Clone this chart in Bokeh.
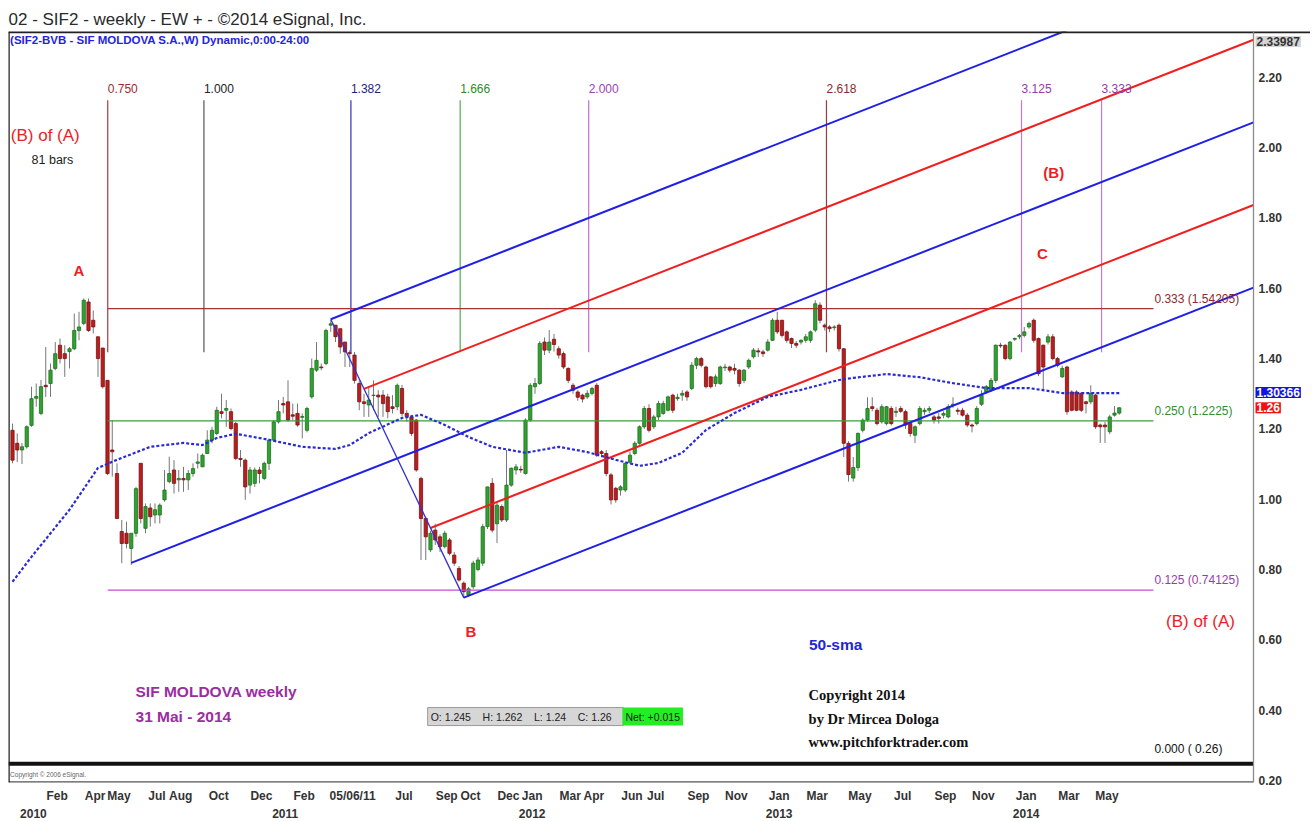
import numpy as np
import pandas as pd
from bokeh.plotting import figure
from bokeh.models import (ColumnDataSource, FixedTicker, Label, Range1d, PrintfTickFormatter,
                          LinearAxis, Span)
from bokeh.embed import file_html
from bokeh.resources import INLINE

# ---------------- data ----------------
START = pd.Timestamp("2009-12-07")   # Monday of the first weekly bar

opens = [1.196,1.159,1.140,1.149,1.210,1.287,1.244,1.324,1.329,1.372,
1.438,1.414,1.420,1.428,1.480,1.500,1.561,1.509,1.462,1.430,
1.338,1.140,1.073,0.908,0.903,0.860,0.903,1.102,0.917,0.975,
0.955,0.955,0.998,1.050,1.083,1.055,1.059,1.055,1.073,1.102,
1.092,1.130,1.168,1.187,1.249,1.253,1.249,1.215,1.116,1.111,
1.040,1.045,1.083,1.059,1.102,1.168,1.220,1.272,1.277,1.240,
1.244,1.233,1.196,1.291,1.367,1.376,1.386,1.495,1.495,1.485,
1.447,1.417,1.410,1.329,1.277,1.268,1.295,1.296,1.296,1.291,
1.263,1.263,1.315,1.244,1.234,1.225,1.059,0.945,0.856,0.912,
0.893,0.865,0.884,0.841,0.803,0.761,0.728,0.751,0.800,0.818,
0.922,1.045,0.930,0.979,0.941,1.040,1.083,1.085,1.073,1.225,
1.320,1.329,1.447,1.424,1.455,1.428,1.414,1.372,1.324,1.305,
1.296,1.291,1.301,1.324,1.135,1.130,1.069,1.031,1.026,1.026,
1.105,1.130,1.159,1.206,1.258,1.206,1.234,1.244,1.253,1.296,
1.286,1.296,1.305,1.315,1.381,1.400,1.376,1.348,1.329,1.329,
1.374,1.376,1.372,1.367,1.338,1.376,1.405,1.422,1.419,1.424,
1.452,1.509,1.509,1.476,1.457,1.443,1.447,1.452,1.452,1.481,
1.552,1.495,1.490,1.488,1.495,1.428,1.159,1.060,1.090,1.196,
1.225,1.263,1.253,1.220,1.215,1.258,1.247,1.258,1.249,1.215,
1.182,1.215,1.249,1.253,1.234,1.234,1.239,1.234,1.267,1.253,
1.253,1.239,1.211,1.215,1.270,1.305,1.310,1.338,1.438,1.438,
1.400,1.455,1.462,1.466,1.490,1.509,1.457,1.438,1.447,1.462,
1.400,1.348,1.376,1.305,1.305,1.301,1.277,1.277,1.296,1.211,
1.211,1.192,1.239,1.245]

highs = [1.215,1.187,1.160,1.210,1.320,1.329,1.339,1.433,1.386,1.447,
1.457,1.438,1.433,1.528,1.533,1.571,1.571,1.537,1.462,1.430,
1.338,1.225,1.102,0.941,0.936,0.903,1.035,1.102,0.988,0.988,
0.988,0.988,1.083,1.121,1.111,1.083,1.092,1.083,1.102,1.130,
1.130,1.196,1.206,1.263,1.300,1.282,1.258,1.220,1.140,1.116,
1.092,1.090,1.092,1.107,1.168,1.225,1.282,1.291,1.338,1.272,
1.272,1.244,1.263,1.400,1.447,1.386,1.485,1.509,1.495,1.485,
1.447,1.424,1.419,1.338,1.300,1.320,1.338,1.310,1.310,1.300,
1.296,1.329,1.325,1.253,1.240,1.228,1.064,0.950,0.910,0.930,
0.900,0.910,0.890,0.850,0.810,0.766,0.750,0.825,0.835,0.930,
1.035,1.060,0.990,0.985,1.140,1.090,1.100,1.095,1.230,1.330,
1.345,1.450,1.460,1.481,1.470,1.435,1.420,1.375,1.330,1.310,
1.300,1.310,1.320,1.330,1.140,1.140,1.075,1.035,1.040,1.105,
1.135,1.165,1.210,1.265,1.270,1.240,1.280,1.280,1.295,1.300,
1.300,1.310,1.310,1.390,1.405,1.405,1.380,1.350,1.355,1.380,
1.385,1.380,1.385,1.370,1.370,1.400,1.430,1.430,1.425,1.455,
1.515,1.533,1.510,1.480,1.460,1.450,1.455,1.470,1.480,1.566,
1.560,1.500,1.495,1.495,1.500,1.430,1.165,1.120,1.190,1.230,
1.290,1.290,1.260,1.270,1.265,1.265,1.263,1.265,1.255,1.220,
1.210,1.265,1.260,1.265,1.240,1.245,1.250,1.270,1.290,1.260,
1.260,1.245,1.215,1.265,1.310,1.325,1.345,1.440,1.445,1.440,
1.450,1.460,1.470,1.490,1.505,1.514,1.460,1.440,1.470,1.470,
1.405,1.380,1.380,1.310,1.310,1.305,1.280,1.324,1.300,1.215,
1.220,1.240,1.265,1.262]

lows = [1.102,1.106,1.100,1.144,1.206,1.263,1.239,1.291,1.291,1.367,
1.386,1.348,1.372,1.424,1.452,1.495,1.476,1.471,1.348,1.315,
1.069,1.064,0.945,0.818,0.860,0.813,0.893,0.931,0.903,0.922,
0.931,0.931,0.993,1.045,1.016,1.021,1.021,1.026,1.064,1.087,
1.092,1.130,1.159,1.182,1.230,1.206,1.196,1.111,1.092,0.998,
1.016,1.035,1.045,1.054,1.083,1.163,1.215,1.244,1.220,1.225,
1.206,1.173,1.190,1.286,1.362,1.367,1.381,1.476,1.447,1.414,
1.376,1.376,1.329,1.253,1.234,1.234,1.253,1.234,1.234,1.230,
1.244,1.253,1.235,1.220,1.180,1.078,0.827,0.827,0.850,0.870,
0.850,0.860,0.840,0.810,0.765,0.718,0.722,0.745,0.795,0.810,
0.915,0.905,0.875,0.935,0.935,1.035,1.070,1.075,1.070,1.220,
1.300,1.325,1.410,1.415,1.420,1.400,1.370,1.330,1.300,1.280,
1.275,1.285,1.295,1.120,1.120,1.065,0.985,0.990,1.010,1.020,
1.100,1.125,1.155,1.200,1.190,1.200,1.225,1.240,1.250,1.245,
1.280,1.280,1.280,1.310,1.370,1.375,1.315,1.315,1.320,1.325,
1.365,1.360,1.355,1.320,1.330,1.370,1.400,1.405,1.405,1.420,
1.450,1.470,1.460,1.445,1.430,1.430,1.440,1.445,1.445,1.475,
1.500,1.480,1.475,1.480,1.420,1.120,1.050,1.050,1.080,1.190,
1.220,1.250,1.210,1.215,1.210,1.210,1.234,1.245,1.200,1.178,
1.160,1.210,1.240,1.245,1.215,1.215,1.230,1.230,1.260,1.240,
1.235,1.205,1.190,1.210,1.265,1.300,1.305,1.330,1.430,1.395,
1.395,1.450,1.455,1.460,1.485,1.445,1.350,1.310,1.440,1.395,
1.375,1.345,1.240,1.250,1.250,1.248,1.244,1.270,1.200,1.160,
1.160,1.185,1.235,1.240]

closes = [1.111,1.140,1.149,1.206,1.286,1.292,1.320,1.320,1.367,1.414,
1.400,1.400,1.428,1.480,1.490,1.566,1.480,1.490,1.400,1.320,
1.073,1.135,0.945,0.874,0.874,0.903,1.030,0.945,0.979,0.950,
0.970,0.983,1.026,1.073,1.045,1.059,1.055,1.073,1.087,1.106,
1.125,1.168,1.196,1.253,1.244,1.258,1.201,1.116,1.113,1.035,
1.083,1.083,1.073,1.102,1.168,1.220,1.249,1.268,1.225,1.236,
1.211,1.235,1.258,1.372,1.395,1.374,1.480,1.499,1.462,1.433,
1.419,1.414,1.338,1.277,1.272,1.282,1.296,1.291,1.272,1.249,
1.258,1.324,1.244,1.235,1.187,1.083,0.945,0.893,0.903,0.884,
0.865,0.903,0.846,0.818,0.770,0.737,0.745,0.818,0.827,0.922,
1.035,0.912,0.983,0.941,1.040,1.088,1.092,1.083,1.225,1.324,
1.329,1.443,1.424,1.447,1.440,1.410,1.376,1.338,1.310,1.290,
1.285,1.301,1.315,1.125,1.130,1.073,0.998,0.998,1.035,1.102,
1.125,1.159,1.206,1.258,1.196,1.234,1.272,1.272,1.291,1.253,
1.290,1.301,1.291,1.381,1.400,1.381,1.320,1.320,1.348,1.376,
1.376,1.367,1.367,1.329,1.367,1.395,1.424,1.419,1.414,1.447,
1.509,1.476,1.466,1.452,1.443,1.438,1.452,1.462,1.476,1.556,
1.509,1.490,1.485,1.490,1.428,1.159,1.070,1.090,1.187,1.225,
1.258,1.258,1.215,1.263,1.263,1.215,1.250,1.250,1.211,1.187,
1.206,1.258,1.253,1.258,1.225,1.230,1.244,1.263,1.270,1.250,
1.239,1.211,1.208,1.258,1.296,1.320,1.338,1.438,1.436,1.400,
1.447,1.457,1.466,1.476,1.500,1.452,1.357,1.376,1.462,1.400,
1.381,1.372,1.249,1.253,1.253,1.253,1.272,1.301,1.206,1.206,
1.206,1.234,1.245,1.260]

# 50-week simple moving average
sma_bar = [0, 4, 12, 18, 22, 29, 36, 40, 43, 47, 54, 61, 68, 71, 75, 82, 86, 91, 96, 101,
           108, 115, 121, 127, 132, 136, 141, 146, 152, 159, 166, 174, 177, 184, 191, 198,
           205, 214, 221, 233]
sma_val = [0.765, 0.836, 0.970, 1.089, 1.112, 1.149, 1.160, 1.154, 1.174, 1.186, 1.169, 1.149,
           1.143, 1.154, 1.188, 1.231, 1.240, 1.211, 1.177, 1.149, 1.132, 1.149, 1.134, 1.112,
           1.095, 1.103, 1.132, 1.197, 1.245, 1.291, 1.311, 1.339, 1.345, 1.356, 1.347, 1.330,
           1.316, 1.316, 1.302, 1.302]
sma_last = 1.30366
chart_top_value = 2.33987

# Andrews pitchfork pivots (bar, price)
piv_bar = [25, 67, 95]
piv_price = [0.819, 1.512, 0.720]

# Fibonacci time lines
ftime_ratio = [0.750, 1.000, 1.382, 1.666, 2.000, 2.618, 3.125, 3.333]
ftime_origin = -40.7
ftime_bars = 81

# Horizontal levels
level_ratio = [0.333, 0.250, 0.125, 0.000]
level_price = [1.54205, 1.2225, 0.74125, 0.26]
level_text = ["0.333 (1.54205)", "0.250 (1.2225)", "0.125 (0.74125)", "0.000 ( 0.26)"]

month_keys = ["2010-02", "2010-04", "2010-05", "2010-07", "2010-08", "2010-10", "2010-12",
              "2011-02", "2011-07", "2011-09", "2011-10", "2011-12",
              "2012-01", "2012-03", "2012-04", "2012-06", "2012-07", "2012-09", "2012-11",
              "2013-01", "2013-03", "2013-05", "2013-07", "2013-09", "2013-11",
              "2014-01", "2014-03", "2014-05"]
month_names = ["Feb", "Apr", "May", "Jul", "Aug", "Oct", "Dec",
               "Feb", "Jul", "Sep", "Oct", "Dec",
               "Jan", "Mar", "Apr", "Jun", "Jul", "Sep", "Nov",
               "Jan", "Mar", "May", "Jul", "Sep", "Nov",
               "Jan", "Mar", "May"]
years = ["2010", "2011", "2012", "2013", "2014"]
y_ticks = [0.20, 0.40, 0.60, 0.80, 1.00, 1.20, 1.40, 1.60, 1.80, 2.00, 2.20]
cursor_date_text = "05/06/11"
cursor_bar = 71.6

# ---------------- styling ----------------
SANS = "Liberation Sans"
SERIF = "Liberation Serif"
GREEN, GREEN_EDGE = "#2fa22f", "#1d6e1d"
RED, RED_EDGE = "#bb1e1e", "#7a1010"
PF_BLUE, PF_RED = "#1f1fe6", "#f01e1e"
NB = "\u00a0"

O = np.array(opens); H = np.array(highs); L = np.array(lows); C = np.array(closes)
n = len(C)
idx = np.arange(n)

X0, XAX, X1 = -0.842, 261.26, 273.26    # frame left, price-axis line, frame right (bars)
YB, YT = 0.194, 2.3305

p = figure(width=1310, height=820,
           x_range=Range1d(X0, X1), y_range=Range1d(YB, YT),
           y_axis_location="right", output_backend="svg", toolbar_location=None,
           min_border_left=8, min_border_right=0, min_border_top=31, min_border_bottom=37,
           title="02 - SIF2 - weekly - EW + - \u00a92014 eSignal, Inc.")
p.grid.visible = False
p.outline_line_color = None
p.title.text_font = SANS
p.title.text_font_size = "17px"
p.title.text_font_style = "normal"
p.title.text_color = "#2a2a2a"
p.title.standoff = 5

# right price axis: labels drawn just right of the price-axis line
p.yaxis.ticker = FixedTicker(ticks=y_ticks)
p.yaxis.formatter = PrintfTickFormatter(format="%.2f")
p.yaxis.major_tick_line_color = None
p.yaxis.minor_tick_line_color = None
p.yaxis.major_tick_out = 0
p.yaxis.minor_tick_out = 0
p.yaxis.axis_line_color = None
p.yaxis.major_label_text_font = SANS
p.yaxis.major_label_text_font_size = "12px"
p.yaxis.major_label_text_font_style = "bold"
p.yaxis.major_label_text_color = "#333333"
p.yaxis.major_label_standoff = -52

# bottom month axis + year axis
def first_friday_bar(key):
    d = pd.Timestamp(key + "-01")
    d = d + pd.Timedelta(days=(4 - d.weekday()) % 7)
    return (d - START).days // 7

LABEL_SHIFT = 1.4
month_pos = [first_friday_bar(k) + LABEL_SHIFT for k in month_keys] + [cursor_bar]
month_txt = month_names + [cursor_date_text]
p.xaxis.ticker = FixedTicker(ticks=month_pos)
p.xaxis.major_label_overrides = {pos: name for pos, name in zip(month_pos, month_txt)}
year_pos = [first_friday_bar(y + "-01") + LABEL_SHIFT for y in years]
yax = LinearAxis(ticker=FixedTicker(ticks=year_pos),
                 major_label_overrides={pos: y for pos, y in zip(year_pos, years)})
p.add_layout(yax, "below")
for ax in (p.xaxis[0], yax):
    ax.axis_line_color = None
    ax.major_tick_line_color = None
    ax.minor_tick_line_color = None
    ax.major_tick_out = 0
    ax.minor_tick_out = 0
    ax.major_label_text_font = SANS
    ax.major_label_text_font_size = "12px"
    ax.major_label_text_font_style = "bold"
    ax.major_label_text_color = "#333333"
p.xaxis[0].major_label_standoff = 6
yax.major_label_standoff = 3

# frame lines
p.add_layout(Span(location=YT, dimension="width", line_color="#222222", line_width=3.5))
p.add_layout(Span(location=X0, dimension="height", line_color="#222222", line_width=2.5))
p.add_layout(Span(location=XAX, dimension="height", line_color="#8a8a8a", line_width=1.3))
p.segment(x0=[X0], y0=[YB], x1=[XAX], y1=[YB], line_color="#555555", line_width=2.5)

# ---------------- candles ----------------
up = C >= O
src = ColumnDataSource(dict(x=idx, h=H, l=L,
                            top=np.maximum(O, C), bot=np.minimum(O, C),
                            fill=[GREEN if u else RED for u in up],
                            edge=[GREEN_EDGE if u else RED_EDGE for u in up]))
p.segment(x0="x", y0="l", x1="x", y1="h", source=src, line_color="#777777", line_width=1)
p.vbar(x="x", width=0.68, top="top", bottom="bot", fill_color="fill",
       line_color="edge", line_width=0.8, source=src)

# ---------------- Fibonacci time lines ----------------
ft_x = [ftime_origin + r * ftime_bars for r in ftime_ratio]
ft_line_col = ["#b03a3a", "#555555", "#3030b0", "#4caf50", "#c070d0", "#9c3a3a", "#c07ad0", "#c07ad0"]
ft_text_col = ["#9c2b2b", "#222222", "#1e1e78", "#2e8b2e", "#9b3fae", "#8b2a2a", "#8f3fa0", "#8f3fa0"]
p.segment(x0=ft_x, y0=[1.418] * len(ft_x), x1=ft_x, y1=[2.135] * len(ft_x),
          line_color=ft_line_col, line_width=1.2)
for xv, r, col in zip(ft_x, ftime_ratio, ft_text_col):
    p.add_layout(Label(x=xv, y=2.168, text=f"{r:.3f}", text_font=SANS, text_font_size="12px",
                       text_color=col, text_align="left", text_baseline="middle"))

# ---------------- horizontal levels ----------------
lv_start = ft_x[0]
lv_end = 240.2
lv_col = ["#a83232", "#3c9c3c", "#c04fd0", "#111111"]
lv_tcol = ["#8b2b2b", "#2f8f2f", "#9b3aa8", "#111111"]
for lvl, pr, txt, lc, tc in zip(level_ratio, level_price, level_text, lv_col, lv_tcol):
    if lvl != 0.0:
        p.segment(x0=[lv_start], y0=[pr], x1=[lv_end], y1=[pr], line_color=lc, line_width=1.3)
    p.add_layout(Label(x=lv_end + 0.2, y=pr + 0.028, text=txt.replace(" ", NB), text_font=SANS,
                       text_font_size="12px", text_color=tc, text_align="left",
                       text_baseline="middle"))
# price-pane bottom separator (thick black rule under the 0.000 level)
p.segment(x0=[X0], y0=[0.2475], x1=[XAX], y1=[0.2475], line_color="#111111", line_width=4)

# ---------------- Andrews pitchfork ----------------
b0, b1, b2 = piv_bar
p0, p1, p2 = piv_price
mb, mp = (b1 + b2) / 2, (p1 + p2) / 2
slope = (mp - p0) / (mb - b0)

def ray(bx, py):
    return [bx, XAX], [py, py + slope * (XAX - bx)]

blue_rays = [ray(b0, p0), ray(b1, p1), ray(b2, p2)]
red_rays = [ray((b1 + mb) / 2, (p1 + mp) / 2), ray((b2 + mb) / 2, (p2 + mp) / 2)]
p.multi_line(xs=[r[0] for r in red_rays], ys=[r[1] for r in red_rays], line_color=PF_RED, line_width=2)
p.multi_line(xs=[r[0] for r in blue_rays], ys=[r[1] for r in blue_rays], line_color=PF_BLUE, line_width=2)
p.line(x=[b1, b2], y=[p1, p2], line_color="#3030d0", line_width=1.3)

# ---------------- 50-sma ----------------
p.line(x=sma_bar, y=sma_val, line_color="#2b2bd6", line_width=2.2, line_dash="3 2")

# ---------------- annotations ----------------
def lab(x, y, text, size, color, font=SANS, style="bold", align="center", **kw):
    p.add_layout(Label(x=x, y=y, text=text, text_font=font, text_font_size=size,
                       text_font_style=style, text_color=color, text_align=align,
                       text_baseline="middle", **kw))

RED_T = "#ee1c25"
PURPLE_T = "#9a2ea0"
lab(-0.5, 2.305, "(SIF2-BVB - SIF MOLDOVA S.A.,W) Dynamic,0:00-24:00", "11.5px", "#2424e0", align="left")
lab(6.9, 2.035, "(B) of (A)", "17px", RED_T, style="normal")
lab(8.4, 1.964, "81 bars", "12.5px", "#222222", style="normal")
lab(14.0, 1.651, "A", "15px", RED_T)
lab(96.5, 0.623, "B", "15px", RED_T)
lab(216.8, 1.700, "C", "15px", RED_T)
lab(219.2, 1.930, "(B)", "15px", RED_T)
lab(250.1, 0.651, "(B) of (A)", "17px", RED_T, style="normal")
lab(173.3, 0.586, "50-sma", "15.5px", "#2424d8")
lab(25.9, 0.4526, "SIF MOLDOVA weekly", "15.5px", PURPLE_T, align="left")
lab(25.9, 0.3816, "31 Mai - 2014", "15.5px", PURPLE_T, align="left")
lab(167.6, 0.444, "Copyright 2014", "14.5px", "#111111", font=SERIF, align="left")
lab(167.6, 0.376, "by Dr Mircea Dologa", "14.5px", "#111111", font=SERIF, align="left")
lab(167.6, 0.3105, "www.pitchforktrader.com", "14.5px", "#111111", font=SERIF, align="left")
lab(-0.5, 0.217, "Copyright \u00a9 2006 eSignal.", "6.5px", "#666666", style="normal", align="left")

GAP = NB * 4
ohlc_text = (f"O:{NB}{O[-1]:g}{GAP}H:{NB}{H[-1]:g}{GAP}L:{NB}{L[-1]:g}{GAP}"
             f"C:{NB}{C[-1]:g}{NB * 3}")
net_text = f"Net:{NB}{C[-1] - C[-2]:+.3f}"
p.add_layout(Label(x=87.4, y=0.3816, text=ohlc_text, text_font=SANS, text_font_size="10.5px",
                   text_color="#222222", text_align="left", text_baseline="middle",
                   background_fill_color="#d6d6d6", border_line_color="#9a9a9a", padding=3))
p.add_layout(Label(x=128.4, y=0.3816, text=net_text, text_font=SANS, text_font_size="10.5px",
                   text_color="#222222", text_align="left", text_baseline="middle",
                   background_fill_color="#22ee22", padding=3))

# right-edge value boxes
for yv, txt, bg, fg in [(2.302, f"{chart_top_value:.5f}", "#d4d4d4", "#333333"),
                        (sma_last, f"{sma_last:.5f}", "#1414e0", "white"),
                        (C[-1], f"{C[-1]:.2f}", "#ee1111", "white")]:
    p.add_layout(Label(x=XAX, y=yv, x_offset=2, text=txt, text_font=SANS,
                       text_font_size="12px", text_font_style="bold", text_color=fg,
                       text_align="left", text_baseline="middle", background_fill_color=bg,
                       padding=1))

open("out.html", "w").write(file_html(p, INLINE))
